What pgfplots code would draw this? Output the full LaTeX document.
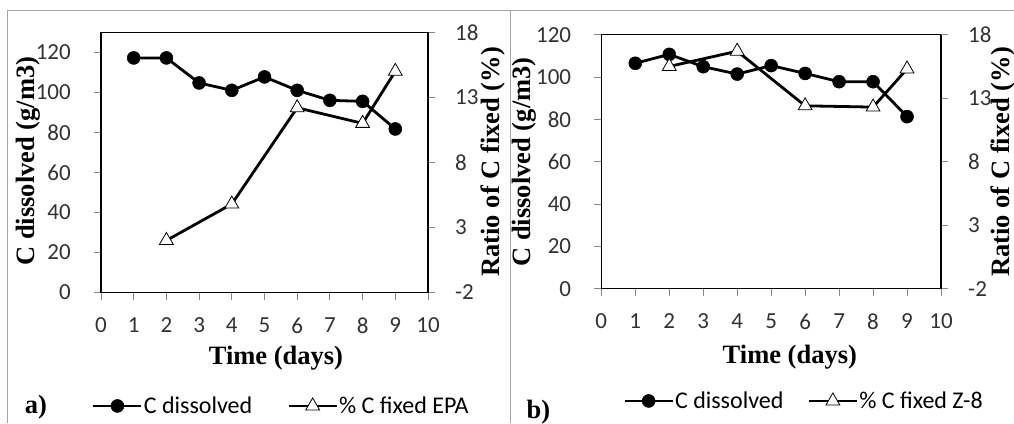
\documentclass[border=0pt]{standalone}
\usepackage{pgfplots}
\pgfplotsset{compat=1.18}
\usepackage{fontspec}
\setmainfont{Liberation Serif}
\newfontfamily\calibri{Carlito}

\definecolor{framegray}{RGB}{165,165,165}
\definecolor{tickgray}{RGB}{134,134,134}
\definecolor{labelgray}{RGB}{50,50,50}

% data
\pgfplotstableread{
day cdis
1 117.2
2 117.2
3 104.7
4 101.0
5 107.7
6 101.0
7 96.0
8 95.5
9 81.7
}\dissA
\pgfplotstableread{
day fix
2 2.0
4 4.8
6 12.2
8 11.0
9 15.0
}\fixA
\pgfplotstableread{
day cdis
1 106.5
2 110.7
3 104.9
4 101.4
5 105.4
6 101.7
7 97.8
8 97.8
9 81.3
}\dissB
\pgfplotstableread{
day fix
2 15.5
4 16.7
6 12.4
8 12.3
9 15.3
}\fixB

\pgfplotsset{
  panel/.style={
    scale only axis, anchor=south west,
    xmin=0, xmax=10, xtick={0,...,10},
    tick align=outside, major tick length=7pt,
    every tick/.style={tickgray, line width=1pt},
    tick label style={font=\calibri\fontsize{23}{23}\selectfont, text=labelgray, inner sep=0pt},
    xticklabel style={anchor=north, yshift=-18pt},
    /pgf/number format/assume math mode=true,
    label style={font=\bfseries\fontsize{26.5}{26.5}\selectfont, anchor=center},
    axis line style={line width=1.5pt, black},
    clip=false,
  },
  leftax/.style={panel, ymin=0, ytick={0,20,...,120}, xtick pos=bottom, ytick pos=left,
    yticklabel style={anchor=east, xshift=-23pt}},
  rightax/.style={panel, ymin=-2, ymax=18, ytick={-2,3,...,18}, axis y line*=right, hide x axis,
    yticklabel style={anchor=west, xshift=20pt}},
  cdis/.style={black, line width=2.8pt, mark=*, mark size=6.5pt, mark options={solid, fill=black, line width=0.5pt}},
  cfix/.style={black, line width=2.8pt, mark=triangle*, mark size=8pt, mark options={solid, fill=white, draw=black, line width=0.8pt}},
  legimg/.style={
    legend columns=2,
    legend image code/.code={\draw[mark repeat=2, mark phase=2] plot coordinates {(0pt,0pt) (24pt,0pt) (48pt,0pt)};},
  },
}

\begin{document}
\begin{tikzpicture}[x=1pt, y=1pt]
\useasboundingbox (0,0) rectangle (1014,423);
\clip (0,0) rectangle (1014,423);

% panel frames
\draw[framegray, line width=1pt] (7,0) -- (7,412) -- (1020,412);
\draw[framegray, line width=1pt] (510,0) -- (510,412);

% ---------- panel a ----------
\begin{axis}[leftax, at={(101pt,130.5pt)}, width=327pt, height=260.2pt, ymax=130,
  xlabel={Time (days)}, ylabel={C dissolved (g/m3)},
  xlabel style={at={(axis description cs:0.535,-0.252)}},
  ylabel style={at={(axis description cs:-0.222,0.505)}, rotate=0}]
\addplot[cdis] table[x=day, y=cdis] {\dissA};
\end{axis}
\begin{axis}[rightax, at={(101pt,130.5pt)}, width=327pt, height=260.2pt,
  ylabel={Ratio of C fixed (\%)},
  ylabel style={at={(axis description cs:1.199,0.502)}, rotate=0},
  legimg,
  legend style={at={(axis description cs:-0.028,-0.436)}, anchor=west, draw=none, fill=none,
    inner sep=0pt, font=\calibri\fontsize{24}{24}\selectfont, text=black,
    nodes={inner sep=1pt},
    /tikz/every even column/.append style={column sep=34pt}}]
\addlegendimage{cdis}
\addlegendentry{C dissolved}
\addplot[cfix] table[x=day, y=fix] {\fixA};
\addlegendentry{\% C fixed EPA}
\end{axis}
\node[font=\bfseries\fontsize{26.5}{26.5}\selectfont] at (36,16) {a)};

% ---------- panel b ----------
\begin{axis}[leftax, at={(601.3pt,134.3pt)}, width=339.7pt, height=254pt, ymax=120,
  xlabel={Time (days)}, ylabel={C dissolved (g/m3)},
  xlabel style={at={(axis description cs:0.555,-0.269)}},
  ylabel style={at={(axis description cs:-0.228,0.499)}, rotate=0}]
\addplot[cdis] table[x=day, y=cdis] {\dissB};
\end{axis}
\begin{axis}[rightax, at={(601.3pt,134.3pt)}, width=339.7pt, height=254pt,
  ylabel={Ratio of C fixed (\%)},
  ylabel style={at={(axis description cs:1.183,0.499)}, rotate=0},
  legimg,
  legend style={at={(axis description cs:0.064,-0.442)}, anchor=west, draw=none, fill=none,
    inner sep=0pt, font=\calibri\fontsize{24}{24}\selectfont, text=black,
    nodes={inner sep=1pt},
    /tikz/every even column/.append style={column sep=23pt}}]
\addlegendimage{cdis}
\addlegendentry{C dissolved}
\addplot[cfix] table[x=day, y=fix] {\fixB};
\addlegendentry{\% C fixed Z-8}
\end{axis}
\node[font=\bfseries\fontsize{26.5}{26.5}\selectfont] at (538.5,11) {b)};
\end{tikzpicture}
\end{document}
